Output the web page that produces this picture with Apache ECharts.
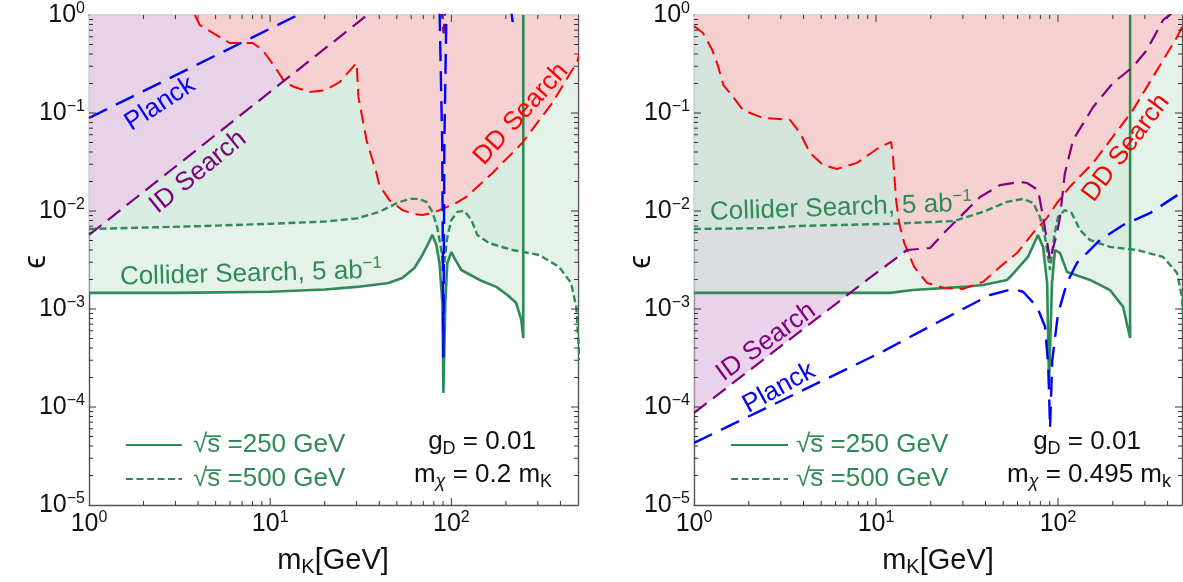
<!DOCTYPE html>
<html>
<head>
<meta charset="utf-8">
<script src="https://cdn.jsdelivr.net/npm/echarts@6/dist/echarts.min.js"></script>
<style>
  html, body { margin: 0; padding: 0; background: #fff; }
  #chart { width: 1183px; height: 582px; }
</style>
</head>
<body>
<div id="chart"></div>
<script>
const FONT = '"Liberation Sans", Arial, sans-serif'
const GREEN = '#2E8B57'
const RED = '#FF0000'
const BLUE = '#0000FF'
const PURPLE = '#800080'

const NAME_250 = '\u221As\u0305 =250 GeV'
const NAME_500 = '\u221As\u0305 =500 GeV'

// ---- left panel: gD = 0.01, m_chi = 0.2 m_K  ([m_K, epsilon])
const collider250L = [
  [1, 1.46e-3], [3, 1.46e-3], [10, 1.5e-3], [20, 1.58e-3], [30, 1.68e-3], [45, 1.84e-3],
  [53.6, 2.07e-3], [62.5, 2.62e-3], [69.2, 3.56e-3], [73, 4.3e-3], [78.6, 5.7e-3],
  [82.6, 4.5e-3], [86, 2.95e-3], [89.2, 1.15e-3], [90.4, 1.39e-4], [92.6, 1.15e-3],
  [95, 2.95e-3], [100, 3.82e-3], [104, 3.3e-3], [113.5, 2.5e-3], [143, 1.98e-3],
  [177, 1.68e-3], [204, 1.39e-3], [228, 1.15e-3], [243, 7.8e-4], [249.5, 5.06e-4], [249.5, 1]
]
const collider500L = [
  [1, 6.55e-3], [4, 7.0e-3], [10, 7.4e-3], [20, 7.8e-3], [30, 8.4e-3], [40, 9.8e-3],
  [45.5, 0.011], [51.7, 0.0124], [60, 0.0133], [66, 0.0133], [72.8, 0.0124], [78.6, 9.8e-3],
  [83.7, 6.7e-3], [88, 4e-3], [90.5, 2.5e-3], [95, 5.4e-3], [100, 8.1e-3], [108, 9.8e-3],
  [118, 0.01], [129, 8.1e-3], [139, 5.7e-3], [162, 4.7e-3], [217, 4e-3], [305, 3.56e-3],
  [393, 2.69e-3], [458, 1.84e-3], [489, 1.05e-3], [510, 3e-4]
]
const idSearchL = [
  [1, 5.7e-3], [34.4, 1], [80, 3.4], [88, 1.3], [90.6, 0.65], [93, 1.3], [110, 5]
]
const planckL = [
  [1, 0.089], [14.2, 1], [30, 2.0], [80, 5], [86, 1.2], [89, 0.05], [90.4, 3.2e-4],
  [91.5, 0.05], [94, 1.2], [100, 5], [205, 5], [214, 1.1], [218, 0.85], [224, 1.1], [235, 5]
]
const ddSearchL = [
  [3.84, 1], [4.09, 0.79], [5.98, 0.518], [8.01, 0.518], [9.09, 0.44], [10.9, 0.275],
  [12, 0.207], [13.6, 0.184], [16.5, 0.164], [20, 0.17], [24.2, 0.207], [30, 0.324],
  [30.7, 0.146], [34, 0.053], [38.6, 0.0244], [40, 0.0184], [45.5, 0.0129], [53.7, 0.0102],
  [62, 9.3e-3], [69.2, 9.1e-3], [78.6, 9.5e-3], [91.5, 0.0107], [106.6, 0.0121], [121, 0.0139],
  [137, 0.0172], [170, 0.0247], [246, 0.0494], [360, 0.126], [494, 0.331], [520, 0.45]
]

// ---- right panel: gD = 0.01, m_chi = 0.495 m_K
const collider250R = [
  [1, 1.46e-3], [3.82, 1.46e-3], [11.9, 1.46e-3], [16, 1.56e-3], [30, 1.68e-3], [38.7, 1.76e-3],
  [52.5, 1.98e-3], [54.5, 2.12e-3], [68.4, 3.4e-3], [77.6, 5.7e-3], [82.8, 4.3e-3],
  [87.1, 1.84e-3], [89.3, 1.76e-4], [92.7, 1.84e-3], [96.3, 4e-3], [102.6, 3.72e-3],
  [112, 2.39e-3], [150, 1.98e-3], [193, 1.56e-3], [228, 1.05e-3], [249, 5.06e-4], [249, 1]
]
const collider500R = [
  [1, 6.55e-3], [2.62, 6.7e-3], [3.68, 7.03e-3], [11.9, 7.4e-3], [26.8, 7.9e-3], [38.7, 9.8e-3],
  [52.5, 0.0124], [64.3, 0.0133], [73, 0.0121], [79.6, 8.7e-3], [84.9, 5.4e-3], [90.4, 2.5e-3],
  [96, 6e-3], [100, 8.7e-3], [109, 0.0102], [119, 9.5e-3], [132, 6.4e-3], [150, 5.06e-3],
  [193, 4.3e-3], [272, 4e-3], [378, 3.4e-3], [451, 2.33e-3], [480, 1.32e-3], [500, 4e-4]
]
const idSearchR = [
  [1, 8.7e-5], [8.93, 1.98e-3], [14.8, 4e-3], [19.8, 4.19e-3], [24.5, 6.4e-3], [37.3, 0.0139],
  [48, 0.0184], [61.8, 0.0198], [67.6, 0.0193], [77.6, 0.0164], [82.8, 8.7e-3], [90.4, 3.16e-3],
  [98.8, 5.97e-3], [102.6, 8.7e-3], [109, 0.024], [121, 0.053], [156, 0.115], [200, 0.202],
  [258, 0.295], [308, 0.44], [378, 0.89], [412, 1], [500, 1.6]
]
const planckR = [
  [1, 4.3e-5], [10.5, 3.56e-4], [27.9, 9.3e-4], [42.3, 1.39e-3], [56.6, 1.6e-3], [64.3, 1.5e-3],
  [76.7, 1.05e-3], [84.9, 6.6e-4], [88.5, 2.5e-4], [90.4, 6.1e-5], [93, 3e-4], [100, 9e-4],
  [112, 1.84e-3], [127, 2.95e-3], [170, 5.06e-3], [228, 7.2e-3], [320, 9.5e-3], [480, 0.0156]
]
const ddSearchR = [
  [1, 0.77], [1.12, 0.655], [1.26, 0.44], [1.36, 0.295], [1.45, 0.193], [1.64, 0.146],
  [1.86, 0.107], [2.39, 0.089], [3.37, 0.085], [3.82, 0.063], [4.34, 0.039], [5.11, 0.0295],
  [6.1, 0.0268], [7.87, 0.031], [10.5, 0.045], [12.1, 0.0506], [12.4, 0.0356], [12.9, 0.0129],
  [13.4, 7.55e-3], [14.3, 4.7e-3], [16.2, 2.69e-3], [19.1, 1.84e-3], [23.6, 1.64e-3], [30, 1.6e-3],
  [38.7, 1.89e-3], [48, 2.69e-3], [59.5, 3.72e-3], [73, 5.97e-3], [87, 8.5e-3], [98.8, 0.0121],
  [116, 0.0176], [156, 0.031], [258, 0.107], [451, 0.597], [520, 1]
]

// axis ticks
const xMajor = [10, 100]
const xMinor = [2, 3, 4, 5, 6, 7, 8, 9, 20, 30, 40, 50, 60, 70, 80, 90, 200, 300, 400]
const yMajor = [1e-4, 1e-3, 1e-2, 1e-1]
const yMinor = []
for (let k = -5; k < 0; k++) {
  for (let m = 2; m <= 9; m++) yMinor.push(m * Math.pow(10, k))
}
const tickData = [
  ...xMajor.map(v => [v, 1e-3, 0]),
  ...xMinor.map(v => [v, 1e-3, 1]),
  ...yMajor.map(v => [10, v, 2]),
  ...yMinor.map(v => [10, v, 3])
]

const greenFill = 'rgba(205,232,216,0.55)'
const purpleFillL = 'rgba(238,200,233,0.7)'
const purpleFillR = 'rgba(220,180,220,0.6)'
const pinkFill = 'rgba(248,206,206,0.88)'

function powLabel(v) {
  const e = Math.log10(v)
  const r = Math.round(e)
  if (Math.abs(e - r) > 1e-6) return ''
  return '{b|10}{e|' + (r < 0 ? '\u2212' + (-r) : r) + '}'
}
const labelRich = {
  b: { fontSize: 25, lineHeight: 28, fontFamily: FONT, color: '#111' },
  e: { fontSize: 16, lineHeight: 16, verticalAlign: 'top', fontFamily: FONT, color: '#111' }
}
const frameLine = { show: true, lineStyle: { color: '#555', width: 1.4 } }

function xAxisCfg(grid, max, bottom) {
  return {
    type: 'log', gridIndex: grid, min: 1, max: max, position: bottom ? 'bottom' : 'top',
    axisLine: frameLine, axisTick: { show: false }, splitLine: { show: false },
    axisLabel: bottom ? { formatter: powLabel, rich: labelRich, margin: 5, showMaxLabel: false } : { show: false }
  }
}
function yAxisCfg(grid, left) {
  return {
    type: 'log', gridIndex: grid, min: 1e-5, max: 1, position: left ? 'left' : 'right',
    axisLine: frameLine, axisTick: { show: false }, splitLine: { show: false },
    axisLabel: left ? { formatter: powLabel, rich: labelRich, margin: 4 } : { show: false }
  }
}

function area(data, color, xi, yi) {
  return {
    type: 'line', data: data, xAxisIndex: xi, yAxisIndex: yi, symbol: 'none', silent: true,
    lineStyle: { width: 0, opacity: 0 }, areaStyle: { color: color, origin: 'end', opacity: 1 },
    animation: false
  }
}
function curve(data, color, dash, width, xi, yi, name) {
  return {
    type: 'line', name: name, data: data, xAxisIndex: xi, yAxisIndex: yi, symbol: 'none',
    silent: true, itemStyle: { color: color, opacity: 0 },
    lineStyle: { color: color, type: dash, width: width }, animation: false
  }
}
function tickSeries(xi, yi, xmax) {
  return {
    type: 'custom', xAxisIndex: xi, yAxisIndex: yi, silent: true, z: 10,
    data: tickData, encode: { x: 0, y: 1 }, animation: false,
    renderItem: function (params, api) {
      const kind = api.value(2)
      const style = { stroke: '#333', lineWidth: 1 }
      if (kind < 2) {
        const len = kind === 0 ? 7 : 4
        const b = api.coord([api.value(0), 1e-5])
        const t = api.coord([api.value(0), 1])
        return { type: 'group', children: [
          { type: 'line', shape: { x1: b[0], y1: b[1], x2: b[0], y2: b[1] - len }, style: style },
          { type: 'line', shape: { x1: t[0], y1: t[1], x2: t[0], y2: t[1] + len }, style: style }
        ] }
      }
      const len = kind === 2 ? 7 : 4
      const l = api.coord([1, api.value(1)])
      const r = api.coord([xmax, api.value(1)])
      return { type: 'group', children: [
        { type: 'line', shape: { x1: l[0], y1: l[1], x2: l[0] + len, y2: l[1] }, style: style },
        { type: 'line', shape: { x1: r[0], y1: r[1], x2: r[0] - len, y2: r[1] }, style: style }
      ] }
    }
  }
}

function label(text, x, y, deg, color, rich, size) {
  return {
    type: 'text', x: x, y: y, rotation: deg * Math.PI / 180, z: 30, silent: true,
    style: {
      text: text, fill: color, fontSize: size || 26, fontFamily: FONT, align: 'center',
      verticalAlign: 'middle', lineHeight: 32, rich: rich || {}
    }
  }
}
const supRich = { sup: { fontSize: 17, lineHeight: 16, verticalAlign: 'top', fontFamily: FONT, fill: GREEN } }
const subRich = {
  s: { fontSize: 18, lineHeight: 16, verticalAlign: 'bottom', fontFamily: FONT, fill: '#111' },
  c: { fontSize: 18, lineHeight: 16, verticalAlign: 'bottom', fontFamily: FONT, fill: '#111', fontStyle: 'italic' }
}
const subRichBig = {
  s: { fontSize: 20, lineHeight: 16, verticalAlign: 'bottom', fontFamily: FONT, fill: '#111' }
}

const legendCommon = {
  orient: 'vertical', itemHeight: 14, itemGap: 8, selectedMode: false,
  itemStyle: { opacity: 0 }, data: [NAME_250, NAME_500]
}

const chart = echarts.init(document.getElementById('chart'))
const option = {
  animation: false,
  backgroundColor: '#fff',
  grid: [
    { left: 89, top: 15, width: 489, height: 490 },
    { left: 694, top: 15, width: 488, height: 490 }
  ],
  xAxis: [xAxisCfg(0, 500, true), xAxisCfg(0, 500, false), xAxisCfg(1, 480, true), xAxisCfg(1, 480, false)],
  yAxis: [yAxisCfg(0, true), yAxisCfg(0, false), yAxisCfg(1, true), yAxisCfg(1, false)],
  legend: [
    Object.assign({}, legendCommon, {
      left: 120, top: 427, itemWidth: 56,
      textStyle: { color: GREEN, fontSize: 26, fontFamily: FONT, lineHeight: 25, padding: [0, 0, 0, 6] }
    }),
    Object.assign({}, legendCommon, {
      left: 725, top: 427, itemWidth: 57,
      textStyle: { color: GREEN, fontSize: 26, fontFamily: FONT, lineHeight: 25, padding: [0, 0, 0, 3] }
    })
  ],
  series: [
    area(collider250L, greenFill, 0, 0),
    area(collider500L, greenFill, 0, 0),
    area(idSearchL, purpleFillL, 0, 0),
    area(ddSearchL, pinkFill, 0, 0),
    curve(collider250L, GREEN, 'solid', 2.6, 0, 0, NAME_250),
    curve(collider500L, GREEN, [7, 3.5], 2.4, 0, 0, NAME_500),
    curve(ddSearchL, RED, [14, 7], 2, 0, 0),
    curve(idSearchL, PURPLE, [16, 8], 2.2, 0, 0),
    curve(planckL, BLUE, [20, 10], 2.4, 0, 0),
    tickSeries(0, 0, 500),

    area(idSearchR, purpleFillR, 2, 2),
    area(collider250R, greenFill, 2, 2),
    area(collider500R, greenFill, 2, 2),
    area(ddSearchR, pinkFill, 2, 2),
    curve(collider250R, GREEN, 'solid', 2.6, 2, 2, NAME_250),
    curve(collider500R, GREEN, [7, 3.5], 2.4, 2, 2, NAME_500),
    curve(ddSearchR, RED, [14, 7], 2, 2, 2),
    curve(idSearchR, PURPLE, [16, 8], 2.2, 2, 2),
    curve(planckR, BLUE, [20, 10], 2.4, 2, 2),
    tickSeries(2, 2, 480)
  ],
  graphic: [
    label('Planck', 160, 104, 33, BLUE),
    label('ID Search', 198, 172, 39, PURPLE),
    label('DD Search', 521, 114, 48, RED),
    label('Collider Search, 5 ab{sup|\u22121}', 251, 274, 1.5, GREEN, supRich),
    label('g{s|D} = 0.01', 482, 442, 0, '#111', subRich),
    label('m{c|\u03C7} = 0.2 m{s|K}', 483, 475, 0, '#111', subRich),
    label('m{s|K}[GeV]', 333, 561, 0, '#111', subRichBig, 29),
    label('\u03F5', 36, 262, 90, '#111', null, 31),

    label('Collider Search, 5 ab{sup|\u22121}', 841, 208, 2, GREEN, supRich),
    label('ID Search', 766, 342, 36, PURPLE),
    label('Planck', 779, 388, 29, BLUE),
    label('DD Search', 1126, 148, 53, RED),
    label('g{s|D} = 0.01', 1087, 442, 0, '#111', subRich),
    label('m{c|\u03C7} = 0.495 m{s|k}', 1089, 475, 0, '#111', subRich),
    label('m{s|K}[GeV]', 938, 561, 0, '#111', subRichBig, 29),
    label('\u03F5', 641, 262, 90, '#111', null, 31)
  ]
}
chart.setOption(option)
window.addEventListener('resize', () => {
  chart.resize()
})
</script>
</body>
</html>
